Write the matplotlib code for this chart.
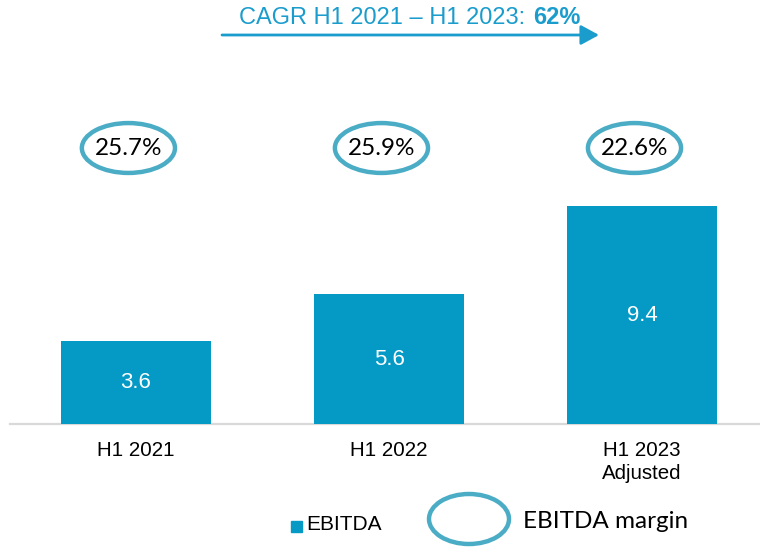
import matplotlib.pyplot as plt
from matplotlib.patches import Ellipse, Rectangle

# data
periods = ['H1 2021', 'H1 2022', 'H1 2023\nAdjusted']
ebitda = [3.6, 5.6, 9.4]
margins = ['25.7%', '25.9%', '22.6%']
cagr_text = 'CAGR H1 2021 \u2013 H1 2023:'
cagr_value = '62%'

bar_col = '#0599c5'
ring_col = '#4bacc6'
title_col = '#1a9ccc'
arial = 'Liberation Sans'
calibri = 'Lato'

W, H = 760, 547
fig = plt.figure(figsize=(W / 100, H / 100), dpi=100)
ax = fig.add_axes([0, 0, 1, 1])
ax.set_xlim(-0.5375, 2.466)
ax.set_ylim(-5.30, 18.28)
ax.axis('off')

x = list(range(len(ebitda)))
ax.bar(x, ebitda, width=0.593, color=bar_col, zorder=2)
ax.axhline(0, xmin=10 / W, xmax=1, color='#d9d9d9', lw=1.6, zorder=1)

for xi, v in zip(x, ebitda):
    ax.text(xi, v / 2, f'{v:.1f}', ha='center', va='center', color='white',
            fontsize=16, family=arial)

for xi, lab in zip(x, periods):
    ax.text(xi, -0.72, lab, ha='center', va='top', fontsize=14.8,
            family=arial, linespacing=1.3)

# margin rings above the bars
ring_y = 11.9
for xi, m in zip(x, margins):
    cx = xi - 0.03
    ax.add_patch(Ellipse((cx, ring_y), 0.368, 2.15, fill=False,
                         ec=ring_col, lw=3.2, zorder=3))
    ax.text(cx, ring_y, m, ha='center', va='center', fontsize=17.5,
            family=calibri)

# CAGR title and arrow
def fx(px):
    return px / W

def fy(py):
    return 1 - py / H

fig.text(fx(525), fy(18), cagr_text, ha='right', va='center', color=title_col,
         fontsize=17, family=arial)
fig.text(fx(533), fy(18), cagr_value, ha='left', va='center', color=title_col,
         fontsize=17, family=arial, fontweight='bold')
ax.annotate('', xy=(fx(599), fy(35)), xytext=(fx(222), fy(35)),
            xycoords='figure fraction', textcoords='figure fraction',
            arrowprops=dict(arrowstyle='-|>,head_length=1.1,head_width=0.6',
                            mutation_scale=10, lw=2, color=title_col,
                            shrinkA=0, shrinkB=0))

# legend
fig.patches.append(Rectangle((fx(291), fy(532)), 11 / W, 11 / H,
                             transform=fig.transFigure, color=bar_col))
fig.text(fx(306), fy(525), 'EBITDA', ha='left', va='center', fontsize=15,
         family=arial)
fig.patches.append(Ellipse((fx(469), fy(519)), 80 / W, 50 / H, fill=False,
                           ec=ring_col, lw=3.2, transform=fig.transFigure))
fig.text(fx(523), fy(522), 'EBITDA margin', ha='left', va='center',
         fontsize=17.5, family=calibri)

fig.savefig('out.png', dpi=100)
